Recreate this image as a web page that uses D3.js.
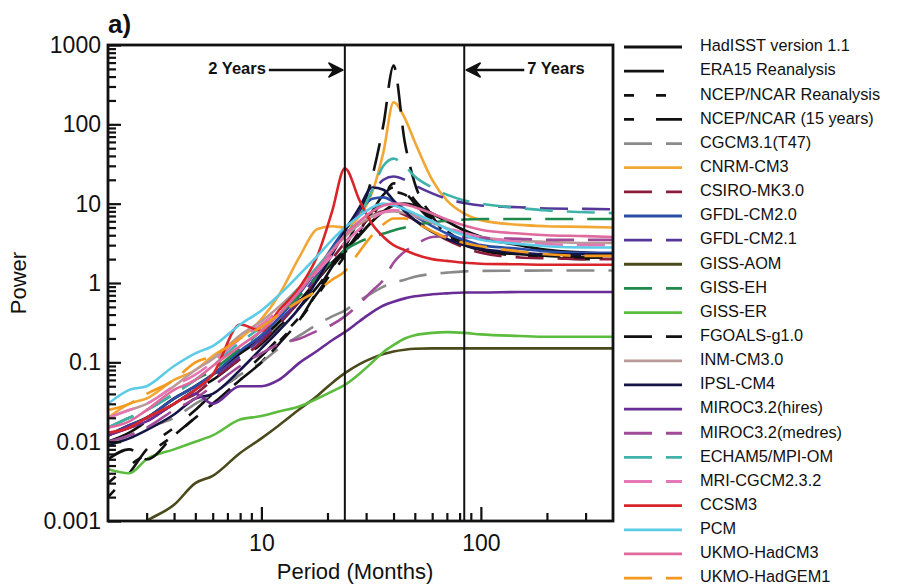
<!DOCTYPE html>
<html>
<head>
<meta charset="utf-8">
<script src="https://cdn.jsdelivr.net/npm/d3@7"></script>
<style>
  body { margin: 0; background: #fff; }
  text { font-family: "Liberation Sans", Arial, Helvetica, sans-serif; fill: #111; }
</style>
</head>
<body>
<svg id="chart"></svg>
<script>
const periods = [2, 2.5, 3, 4, 5, 6, 8, 10, 12, 15, 18, 21, 24, 28, 32, 36, 40, 45, 50, 60, 70, 84, 100, 150, 200, 300, 400];

// power at those periods, one array per data set
const hadisst  = [0.012, 0.016, 0.02, 0.035, 0.05, 0.07, 0.13, 0.2, 0.32, 0.6, 1.1, 1.8, 2.6, 4, 6, 8, 9.5, 10, 9.5, 7.5, 6, 4.6, 3.8, 3, 2.6, 2.4, 2.3];
const era15    = [0.01, 0.013, 0.018, 0.03, 0.045, 0.06, 0.11, 0.17, 0.28, 0.5, 0.9, 1.6, 2.5, 4.5, 8, 13, 16, 14, 10, 6, 4.2, 3.2, 2.7, 2.3, 2.2, 2.1, 2.1];
const ncep     = [0.003, 0.005, 0.007, 0.012, 0.02, 0.03, 0.06, 0.1, 0.18, 0.35, 0.7, 1.3, 2.2, 4, 7, 11, 14, 13, 10, 6.5, 4.5, 3.3, 2.8, 2.4, 2.3, 2.2, 2.2];
const ncep15   = [0.002, 0.004, 0.008, 0.015, 0.025, 0.04, 0.07, 0.12, 0.2, 0.38, 0.75, 1.4, 2.4, 4.5, 8, 12, 18, 16, 11, 6.5, 4.3, 3.2, 2.6, 2.2, 2.1, 2, 2];
const cgcm     = [0.009, 0.012, 0.015, 0.02, 0.03, 0.04, 0.07, 0.1, 0.15, 0.22, 0.3, 0.38, 0.45, 0.6, 0.75, 0.9, 1.0, 1.1, 1.2, 1.3, 1.35, 1.4, 1.42, 1.43, 1.44, 1.44, 1.44];
const cnrm     = [0.02, 0.03, 0.035, 0.06, 0.08, 0.12, 0.2, 0.35, 0.7, 2.2, 4.8, 5.2, 5, 7, 14, 45, 190, 120, 60, 20, 11, 7.5, 6.2, 5.4, 5.2, 5.1, 5.0];
const csiro    = [0.012, 0.015, 0.018, 0.03, 0.04, 0.06, 0.11, 0.18, 0.3, 0.6, 1.1, 2, 3.2, 5, 7, 8, 8, 7.2, 6.2, 4.5, 3.5, 2.8, 2.4, 2.1, 2.05, 2, 2];
const gfdl20   = [0.012, 0.016, 0.02, 0.035, 0.05, 0.07, 0.14, 0.22, 0.36, 0.75, 1.5, 2.8, 4.8, 8, 11.5, 12, 10.5, 8.5, 7, 5.2, 4.2, 3.5, 3, 2.7, 2.5, 2.4, 2.4];
const gfdl21   = [0.012, 0.016, 0.02, 0.03, 0.045, 0.065, 0.12, 0.2, 0.32, 0.65, 1.3, 2.5, 4.2, 8, 14, 20, 22, 20, 17, 13.5, 11.5, 10.2, 9.5, 9, 8.7, 8.6, 8.5];
const gissAom  = [0.00045, 0.0007, 0.001, 0.0016, 0.003, 0.0037, 0.0072, 0.011, 0.016, 0.026, 0.038, 0.055, 0.073, 0.095, 0.113, 0.127, 0.137, 0.144, 0.148, 0.15, 0.15, 0.15, 0.15, 0.15, 0.15, 0.15, 0.15];
const gissEh   = [0.015, 0.02, 0.025, 0.04, 0.06, 0.08, 0.15, 0.25, 0.4, 0.7, 1.2, 1.9, 2.6, 3.3, 3.8, 4.2, 4.6, 5, 5.4, 5.8, 6.1, 6.3, 6.4, 6.4, 6.4, 6.4, 6.4];
const gissEr   = [0.0045, 0.004, 0.006, 0.008, 0.01, 0.012, 0.019, 0.021, 0.024, 0.028, 0.035, 0.043, 0.052, 0.072, 0.1, 0.135, 0.165, 0.2, 0.22, 0.235, 0.24, 0.235, 0.225, 0.215, 0.21, 0.21, 0.21];
const fgoals   = [0.006, 0.008, 0.006, 0.012, 0.02, 0.03, 0.06, 0.1, 0.17, 0.35, 0.8, 1.6, 2.8, 7, 22, 100, 550, 60, 18, 7, 4, 3, 2.6, 2.3, 2.2, 2.1, 2.1];
const inm      = [0.02, 0.025, 0.03, 0.05, 0.08, 0.11, 0.22, 0.33, 0.5, 0.9, 1.6, 2.6, 3.8, 5.5, 7, 7.8, 8, 7.6, 7, 5.8, 4.9, 4.2, 3.8, 3.4, 3.3, 3.2, 3.2];
const ipsl     = [0.009, 0.011, 0.014, 0.022, 0.035, 0.04, 0.08, 0.15, 0.25, 0.5, 1.1, 2.3, 4.5, 9, 16, 15, 11, 8, 6.2, 4.4, 3.6, 3, 2.7, 2.4, 2.3, 2.3, 2.3];
const mirocHi  = [0.012, 0.015, 0.018, 0.03, 0.04, 0.03, 0.05, 0.05, 0.06, 0.1, 0.14, 0.19, 0.24, 0.33, 0.43, 0.52, 0.58, 0.64, 0.68, 0.72, 0.74, 0.76, 0.76, 0.77, 0.77, 0.77, 0.77];
const mirocMed = [0.01, 0.012, 0.015, 0.025, 0.035, 0.05, 0.09, 0.13, 0.17, 0.2, 0.25, 0.3, 0.38, 0.55, 0.8, 1.1, 1.8, 2.5, 3, 3.8, 3.9, 3.8, 3.7, 3.6, 3.5, 3.5, 3.5];
const echam    = [0.015, 0.02, 0.025, 0.04, 0.06, 0.09, 0.18, 0.28, 0.45, 0.9, 1.6, 2.6, 4, 7, 15, 30, 37, 30, 22, 16, 13, 11, 10, 8.8, 8.2, 7.8, 7.6];
const mri      = [0.02, 0.025, 0.03, 0.05, 0.07, 0.1, 0.2, 0.3, 0.45, 0.8, 1.4, 2.2, 3.2, 4.8, 6.5, 7.8, 8.3, 8, 7.3, 6, 5, 4.3, 3.8, 3.3, 3.1, 3, 3];
const ccsm     = [0.013, 0.015, 0.02, 0.03, 0.045, 0.07, 0.3, 0.25, 0.45, 0.9, 2.2, 8, 28, 11, 5.5, 3.8, 3.0, 2.6, 2.3, 2.0, 1.9, 1.8, 1.75, 1.72, 1.7, 1.7, 1.7];
const pcm      = [0.03, 0.045, 0.05, 0.09, 0.13, 0.16, 0.3, 0.45, 0.7, 1.3, 2.2, 3.5, 5, 7, 9, 10, 9.5, 8.5, 7.5, 6, 4.8, 4, 3.5, 3.1, 2.9, 2.8, 2.8];
const hadcm3   = [0.015, 0.018, 0.025, 0.045, 0.06, 0.09, 0.16, 0.25, 0.4, 0.8, 1.5, 2.5, 4, 6, 8, 9.5, 10, 9.8, 9, 7.5, 6.3, 5.3, 4.7, 4.2, 4, 3.9, 3.8];
const hadgem1  = [0.025, 0.03, 0.04, 0.06, 0.1, 0.12, 0.2, 0.28, 0.4, 0.6, 0.8, 1.1, 1.4, 2.5, 4, 5.5, 6.5, 6.5, 5.8, 4.5, 3.7, 3.2, 2.9, 2.5, 2.3, 2.2, 2.2];

// legend labels, same order as the arrays below
const names = ["HadISST version 1.1", "ERA15 Reanalysis", "NCEP/NCAR Reanalysis", "NCEP/NCAR (15 years)",
  "CGCM3.1(T47)", "CNRM-CM3", "CSIRO-MK3.0", "GFDL-CM2.0", "GFDL-CM2.1", "GISS-AOM", "GISS-EH", "GISS-ER",
  "FGOALS-g1.0", "INM-CM3.0", "IPSL-CM4", "MIROC3.2(hires)", "MIROC3.2(medres)", "ECHAM5/MPI-OM",
  "MRI-CGCM2.3.2", "CCSM3", "PCM", "UKMO-HadCM3", "UKMO-HadGEM1"];
const values = [hadisst, era15, ncep, ncep15, cgcm, cnrm, csiro, gfdl20, gfdl21, gissAom, gissEh, gissEr,
  fgoals, inm, ipsl, mirocHi, mirocMed, echam, mri, ccsm, pcm, hadcm3, hadgem1];

const yTickLabels = ["0.001", "0.01", "0.1", "1", "10", "100", "1000"];
const xTickLabels = [10, 100];

// line styles: colour and dash pattern
const colors = ["#111", "#111", "#111", "#111", "#8a8a8a", "#f2a735", "#8c1c3c", "#2a4fa8", "#55379a",
  "#4b4a1c", "#1f8a4c", "#5cbc3e", "#111", "#b89a98", "#141447", "#6a2c96", "#a04a98", "#3fb3aa",
  "#e577b6", "#d9252a", "#5ccbe6", "#e06a9e", "#f39a1e"];
const dashes = [null, "40,18", "10,22", "10,22,30,22", "28,14", null, "28,14", null, "28,14", null, "28,14", null,
  "28,14", null, null, null, "28,14", "28,14", "28,14", null, null, null, "28,14"];

const W = 899, H = 586;
const plot = { left: 108, right: 613, top: 45, bottom: 521 };

const svg = d3.select("#chart").attr("width", W).attr("height", H);

// log scales on both axes
const x = d3.scaleLog().domain([2, 400]).range([plot.left, plot.right]);
const y = d3.scaleLog().domain([0.001, 1000]).range([plot.bottom, plot.top]);

svg.append("defs").append("clipPath").attr("id", "plotClip")
  .append("rect")
  .attr("x", plot.left).attr("y", plot.top)
  .attr("width", plot.right - plot.left).attr("height", plot.bottom - plot.top);

// spectra
const line = d3.line()
  .defined(d => d[1] != null)
  .x(d => x(d[0]))
  .y(d => y(d[1]))
  .curve(d3.curveMonotoneX);

const lines = svg.append("g").attr("clip-path", "url(#plotClip)");
values.forEach((vals, i) => {
  lines.append("path")
    .datum(periods.map((p, j) => [p, vals[j]]))
    .attr("d", line)
    .attr("fill", "none")
    .attr("stroke", colors[i])
    .attr("stroke-width", i == 0 ? 3 : 2.6)
    .attr("stroke-dasharray", dashes[i])
    .attr("stroke-linejoin", "round");
});

// 2 and 7 year markers
[24, 84].forEach(p => {
  svg.append("line")
    .attr("x1", x(p)).attr("x2", x(p))
    .attr("y1", plot.top).attr("y2", plot.bottom)
    .attr("stroke", "#111").attr("stroke-width", 2);
});

function arrow(x0, x1, yy) {
  const dir = x1 > x0 ? 1 : -1;
  svg.append("line")
    .attr("x1", x0).attr("x2", x1 - dir * 6).attr("y1", yy).attr("y2", yy)
    .attr("stroke", "#111").attr("stroke-width", 2.5);
  svg.append("path")
    .attr("d", `M${x1},${yy} L${x1 - dir * 14},${yy - 7} L${x1 - dir * 9},${yy} L${x1 - dir * 14},${yy + 7} Z`)
    .attr("fill", "#111").attr("stroke", "#111").attr("stroke-width", 1.5).attr("stroke-linejoin", "round");
}
const arrowY = 70;
arrow(x(24) - 76, x(24) - 2, arrowY);
svg.append("text")
  .attr("x", x(24) - 79).attr("y", arrowY)
  .attr("text-anchor", "end").attr("dominant-baseline", "middle")
  .style("font-size", "16.5px").style("font-weight", "bold")
  .text("2 Years");
arrow(x(84) + 60, x(84) + 2, arrowY);
svg.append("text")
  .attr("x", x(84) + 63).attr("y", arrowY)
  .attr("dominant-baseline", "middle")
  .style("font-size", "16.5px").style("font-weight", "bold")
  .text("7 Years");

// axes: ticks drawn inward
const yMajor = d3.range(-3, 4).map(k => Math.pow(10, k));
const yMinor = [];
d3.range(-3, 3).forEach(k => d3.range(2, 10).forEach(m => yMinor.push(m * Math.pow(10, k))));
const xMinor = [3, 4, 5, 6, 7, 8, 9, 20, 30, 40, 50, 60, 70, 80, 90, 200, 300];

svg.append("g").attr("transform", `translate(${plot.left},0)`)
  .call(d3.axisLeft(y).tickValues(yMajor).tickSize(-13).tickPadding(7)
    .tickFormat((d, i) => yTickLabels[i]));
svg.append("g").attr("transform", `translate(${plot.left},0)`)
  .call(d3.axisLeft(y).tickValues(yMinor).tickSize(-8).tickFormat(""));

svg.append("g").attr("transform", `translate(0,${plot.bottom})`)
  .call(d3.axisBottom(x).tickValues(xTickLabels).tickSize(-14).tickPadding(14)
    .tickFormat(d3.format("d")));
svg.append("g").attr("transform", `translate(0,${plot.bottom})`)
  .call(d3.axisBottom(x).tickValues(xMinor).tickSize(-8).tickFormat(""));

svg.selectAll(".domain").remove();
svg.selectAll(".tick line").attr("stroke", "#111").attr("stroke-width", 2.2);
svg.selectAll(".tick text").style("font-size", "23px").attr("fill", "#111")
  .style("font-family", "'Liberation Sans', Arial, sans-serif");

// frame
svg.append("rect")
  .attr("x", plot.left).attr("y", plot.top)
  .attr("width", plot.right - plot.left).attr("height", plot.bottom - plot.top)
  .attr("fill", "none").attr("stroke", "#111").attr("stroke-width", 2.8);

// titles
svg.append("text")
  .attr("transform", `translate(20,${(plot.top + plot.bottom) / 2}) rotate(-90)`)
  .attr("text-anchor", "middle").attr("dominant-baseline", "middle")
  .style("font-size", "22px")
  .text("Power");
svg.append("text")
  .attr("x", 355).attr("y", 579)
  .attr("text-anchor", "middle")
  .style("font-size", "22px")
  .text("Period (Months)");
svg.append("text")
  .attr("x", plot.left).attr("y", 33)
  .style("font-size", "26px").style("font-weight", "bold")
  .text("a)");

// legend
const legendTop = 47, legendStep = 24.14;
const legend = svg.append("g");
names.forEach((name, i) => {
  const yy = legendTop + i * legendStep;
  legend.append("line")
    .attr("x1", 624).attr("x2", 682).attr("y1", yy).attr("y2", yy)
    .attr("stroke", colors[i])
    .attr("stroke-width", i == 0 ? 3.2 : 2.8)
    .attr("stroke-dasharray", dashes[i]);
  legend.append("text")
    .attr("x", 700).attr("y", yy)
    .attr("dominant-baseline", "middle")
    .style("font-size", "16.3px")
    .text(name);
});
</script>
</body>
</html>
